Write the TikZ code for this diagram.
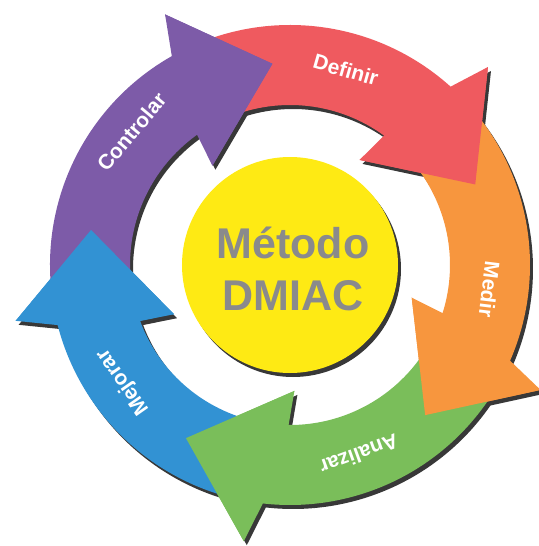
\documentclass[tikz,border=0pt]{standalone}
\usepackage{fontspec}
\setmainfont{Liberation Sans}
\usepackage{tikz}

\definecolor{controlcol}{RGB}{125,91,168}
\definecolor{definecol}{RGB}{239,90,95}
\definecolor{measurecol}{RGB}{247,150,62}
\definecolor{analysecol}{RGB}{122,190,90}
\definecolor{improvecol}{RGB}{50,146,211}
\definecolor{centercol}{RGB}{254,234,20}
\definecolor{titlecol}{RGB}{138,138,140}

% one curved arrow: #1 = angle of the inner barb, #2 = angle of the tail
\newcommand{\cyclearrow}[2]{%
  (#2:240) arc[start angle=#2, end angle=#1-8.5, radius=240pt]
  -- ({#1-11.5}:280) -- ({#1-33}:202) -- (#1:126) -- ({#1-2.5}:160)
  arc[start angle=#1-2.5, end angle=#2, radius=160pt] -- cycle}
\newcommand{\cyclehead}[1]{%
  ({#1-11.5}:280) -- ({#1-33}:202) -- (#1:126) -- cycle}

\tikzset{
  arrow shadow/.style={fill=black!78, shift={(3,-4)}},
  step label/.style={text=white, font=\bfseries\fontsize{21}{23}\selectfont},
}

\begin{document}
\begin{tikzpicture}[x=1pt, y=1pt]
    \useasboundingbox (-290,-281) rectangle (248,265);

    % shadows
    \foreach \a/\t in {56.5/112, -15/40.5, -88/-31, -157/-104, -232/-173}
      \fill[arrow shadow] \cyclearrow{\a}{\t};
    \fill[arrow shadow] (0,0) circle[radius=108pt];

    % arrows
    \fill[definecol]  \cyclearrow{56.5}{112};
    \fill[measurecol] \cyclearrow{-15}{40.5};
    \fill[analysecol] \cyclearrow{-88}{-31};
    \fill[improvecol] \cyclearrow{-157}{-104};
    \fill[controlcol] \cyclearrow{-232}{-173};

    % heads again, over the next tail
    \fill[definecol]  \cyclehead{56.5};
    \fill[measurecol] \cyclehead{-15};
    \fill[analysecol] \cyclehead{-88};
    \fill[improvecol] \cyclehead{-157};
    \fill[controlcol] \cyclehead{-232};

    \fill[centercol] (0,0) circle[radius=108pt];

    \node[step label, rotate=-16]  (definir)   at (74:203)  {Definir};
    \node[step label, rotate=-97]  (medir)     at (-7:201)  {Medir};
    \node[step label, rotate=-160] (analizar)  at (-70:202) {Analizar};
    \node[step label, rotate=125]  (mejorar)   at (215:204) {Mejorar};
    \node[step label, rotate=50]   (controlar) at (140:207) {Controlar};

    \node[text=titlecol, align=center, font=\bfseries\fontsize{43}{52}\selectfont]
      (metodo) at (3,-4) {Método\\DMIAC};
\end{tikzpicture}
\end{document}
